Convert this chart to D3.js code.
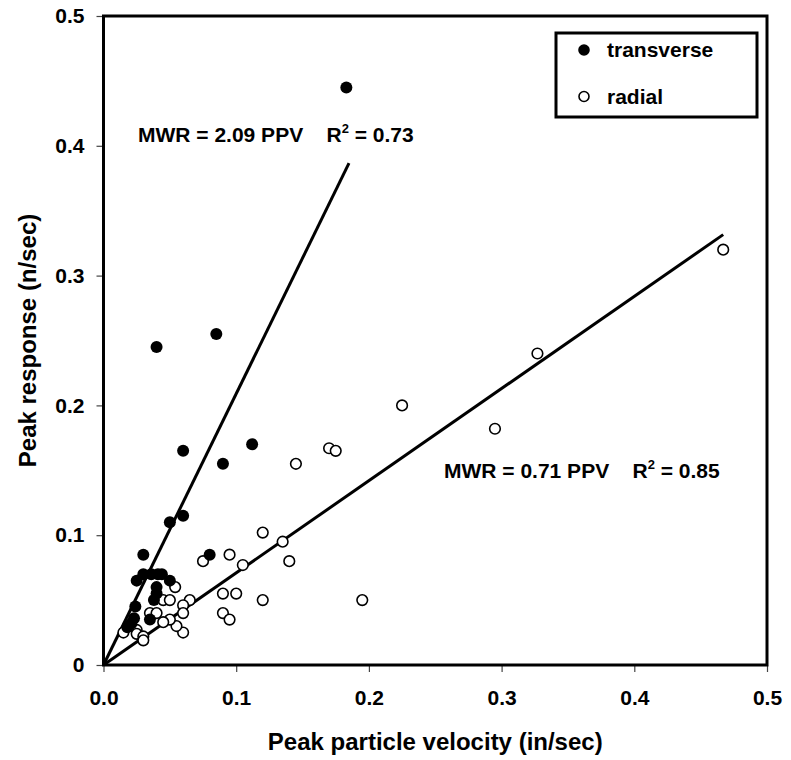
<!DOCTYPE html>
<html>
<head>
<meta charset="utf-8">
<script src="https://d3js.org/d3.v7.min.js"></script>
<style>
  body { margin: 0; background: #fff; }
  svg { display: block; font-family: "Liberation Sans", Arial, sans-serif; font-weight: bold; }
</style>
</head>
<body>
<div id="chart"></div>
<script>
// transverse (filled) points: [PPV, MWR]
const transverse = [
  [0.183, 0.445], [0.040, 0.245], [0.085, 0.255], [0.060, 0.165], [0.112, 0.170],
  [0.090, 0.155], [0.060, 0.115], [0.050, 0.110], [0.080, 0.085], [0.030, 0.085],
  [0.025, 0.065], [0.030, 0.070], [0.036, 0.070], [0.041, 0.070], [0.044, 0.070],
  [0.050, 0.065], [0.040, 0.060], [0.040, 0.055], [0.038, 0.050], [0.024, 0.045],
  [0.023, 0.036], [0.021, 0.032], [0.018, 0.029], [0.035, 0.035]
];

// radial (open) points
const radial = [
  [0.467, 0.320], [0.327, 0.240], [0.295, 0.182], [0.225, 0.200], [0.170, 0.167],
  [0.175, 0.165], [0.145, 0.155], [0.195, 0.050], [0.135, 0.095], [0.140, 0.080],
  [0.120, 0.102], [0.120, 0.050], [0.105, 0.077], [0.095, 0.085], [0.075, 0.080],
  [0.090, 0.055], [0.100, 0.055], [0.090, 0.040], [0.095, 0.035], [0.065, 0.050],
  [0.060, 0.046], [0.060, 0.040], [0.060, 0.025], [0.055, 0.030], [0.054, 0.060],
  [0.045, 0.050], [0.050, 0.050], [0.035, 0.040], [0.040, 0.040], [0.050, 0.035],
  [0.045, 0.033], [0.015, 0.025], [0.025, 0.027], [0.025, 0.024], [0.030, 0.022],
  [0.030, 0.019]
];

// regression lines through the origin
const fitNames = ["transverse", "radial"];
const fitSlopes = [2.09, 0.71];
const fitR2 = ["0.73", "0.85"];
const fitXmax = [0.185, 0.467];

const xTicks = [0, 0.1, 0.2, 0.3, 0.4, 0.5];
const yTicks = [0, 0.1, 0.2, 0.3, 0.4, 0.5];

const width = 791, height = 760;
const margin = { top: 16, right: 24, bottom: 95, left: 103.5 };

const svg = d3.select("#chart").append("svg")
  .attr("width", width)
  .attr("height", height);

const x = d3.scaleLinear().domain([0, 0.5]).range([margin.left, width - margin.right]);
const y = d3.scaleLinear().domain([0, 0.5]).range([height - margin.bottom, margin.top]);

// axes
const xAxis = svg.append("g")
  .attr("transform", `translate(0,${y(0)})`)
  .call(d3.axisBottom(x).tickValues(xTicks).tickFormat(d3.format(".1f")).tickSize(7).tickPadding(18));
const yAxis = svg.append("g")
  .attr("transform", `translate(${x(0)},0)`)
  .call(d3.axisLeft(y).tickValues(yTicks).tickFormat(d => d === 0 ? "0" : d3.format(".1f")(d)).tickSize(7).tickPadding(12));

[xAxis, yAxis].forEach(g => {
  g.select(".domain").remove();
  g.selectAll(".tick line").attr("stroke", "#444").attr("stroke-width", 1.2);
  g.selectAll(".tick text").attr("fill", "#000").style("font-size", "21px").style("font-weight", "bold")
    .style("font-family", "'Liberation Sans', Arial, sans-serif");
});

// plot frame
svg.append("rect")
  .attr("x", x(0)).attr("y", y(0.5))
  .attr("width", x(0.5) - x(0)).attr("height", y(0) - y(0.5))
  .attr("fill", "none").attr("stroke", "#000").attr("stroke-width", 3);

// fit lines
fitSlopes.forEach((m, i) => {
  svg.append("line")
    .attr("x1", x(0)).attr("y1", y(0))
    .attr("x2", x(fitXmax[i])).attr("y2", y(m * fitXmax[i]))
    .attr("stroke", "#000").attr("stroke-width", 3);
});

// points
svg.append("g").selectAll("circle").data(radial).join("circle")
  .attr("cx", d => x(d[0])).attr("cy", d => y(d[1])).attr("r", 5.3)
  .attr("fill", "#fff").attr("stroke", "#000").attr("stroke-width", 1.6);

svg.append("g").selectAll("circle").data(transverse).join("circle")
  .attr("cx", d => x(d[0])).attr("cy", d => y(d[1])).attr("r", 6)
  .attr("fill", "#000");

// equations
const eqPos = [[138, 142], [444, 478]];
fitSlopes.forEach((m, i) => {
  const t = svg.append("text")
    .attr("x", eqPos[i][0]).attr("y", eqPos[i][1])
    .style("font-size", "21px").style("white-space", "pre");
  t.append("tspan").text(`MWR = ${m.toFixed(2)} PPV    R`);
  t.append("tspan").attr("dy", -9).style("font-size", "13px").text("2");
  t.append("tspan").attr("dy", 9).text(` = ${fitR2[i]}`);
});

// legend
const legend = svg.append("g");
legend.append("rect")
  .attr("x", 556).attr("y", 33).attr("width", 201).attr("height", 84)
  .attr("fill", "#fff").attr("stroke", "#000").attr("stroke-width", 3);
fitNames.forEach((name, i) => {
  const cy = 50 + i * 46.5;
  legend.append("circle")
    .attr("cx", 584).attr("cy", cy).attr("r", 5)
    .attr("fill", i === 0 ? "#000" : "#fff").attr("stroke", "#000").attr("stroke-width", 1.6);
  legend.append("text")
    .attr("x", 607).attr("y", cy + 7)
    .style("font-size", "21px").text(name);
});

// axis titles
svg.append("text")
  .attr("x", (x(0) + x(0.5)) / 2).attr("y", 750)
  .attr("text-anchor", "middle").style("font-size", "24px")
  .text("Peak particle velocity (in/sec)");
svg.append("text")
  .attr("transform", `translate(36,${(y(0) + y(0.5)) / 2}) rotate(-90)`)
  .attr("text-anchor", "middle").style("font-size", "24px")
  .text("Peak response (n/sec)");
</script>
</body>
</html>
